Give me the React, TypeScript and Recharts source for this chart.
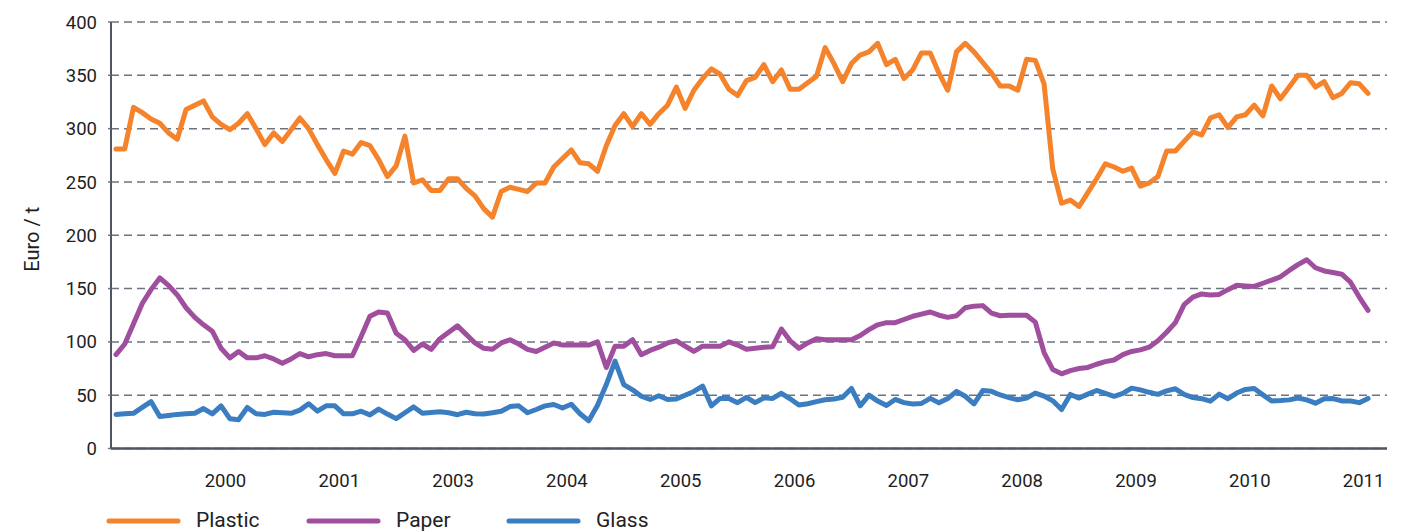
import React from 'react';
import { LineChart, Line, XAxis, YAxis, CartesianGrid, Legend, Label } from 'recharts';

const plastic = [
  281, 281, 320, 315, 309, 305, 296, 290, 318, 322, 326, 311, 304, 299, 305, 314, 300, 285, 296, 288,
  299, 310, 300, 285, 271, 258, 279, 276, 287, 284, 271, 255, 265, 293, 249, 252, 242, 242, 253, 253,
  244, 237, 225, 217, 241, 245, 243, 241, 249, 249, 264, 272, 280, 268, 267, 260, 284, 303, 314, 302,
  314, 304, 314, 322, 339, 319, 336, 347, 356, 351, 337, 331, 345, 348, 360, 344, 355, 337, 337, 343,
  349, 376, 361, 344, 361, 369, 372, 380, 360, 365, 347, 355, 371, 371, 352, 336, 372, 380, 372, 362,
  352, 340, 340, 336, 365, 364, 342, 262, 230, 233, 227, 240, 253, 267, 264, 260, 263, 246, 249, 255,
  279, 279, 288, 297, 294, 310, 313, 301, 311, 313, 322, 312, 340, 328, 339, 350, 350, 339, 344, 329,
  333, 343, 342, 333,
];

const paper = [
  88, 98, 117, 136, 149, 160, 153, 144, 132, 123, 116, 110, 94, 85, 91, 85, 85, 87, 84, 80,
  84, 89, 86, 88, 89, 87, 87, 87, 105, 124, 128, 127, 108, 102, 92, 98, 93, 103, 109, 115,
  107, 99, 94, 93, 99, 102, 98, 93, 91, 95, 99, 97, 97, 97, 97, 100, 76, 96, 96, 102,
  88, 92, 95, 99, 101, 96, 91, 96, 96, 96, 100, 97, 93, 94, 95, 95.5, 112, 101, 94, 99,
  103, 102, 102, 102, 102, 106, 111.5, 116, 118, 118, 121, 124, 126, 128, 125, 123, 124.5, 132, 133.5, 134,
  127, 124.5, 125, 125, 125, 118.5, 90, 74, 70, 73, 75, 76, 79, 81.5, 83, 88, 91, 92.5, 95, 101,
  109, 118, 135, 142, 145, 144, 144.5, 149, 153, 152.5, 152, 155, 158, 161, 167, 172.5, 177, 169.5, 166.5, 165,
  163.5, 156, 142, 129.5,
];

const glass = [
  32, 32.5, 33, 38.5, 44, 30, 31, 32, 32.5, 33, 37.5, 32.5, 40, 28, 27, 38.5, 32.5, 32, 34, 33.5,
  33, 36, 42, 35, 40, 40, 32.5, 32.5, 35, 31.5, 37, 32.3, 28, 33.5, 39, 33, 33.7, 34.4, 33.5, 31.7,
  34, 32.6, 32.4, 33.5, 35, 39.3, 40, 33.5, 36.6, 40, 41.3, 38, 41.5, 32.6, 26, 40.5, 60, 82, 60, 55,
  49, 46, 49.5, 46, 46.5, 50, 53.5, 58.6, 40, 47, 47, 43, 48, 43, 47.5, 47, 51.8, 46.6, 40.8, 42,
  44, 45.7, 46.5, 48, 56.3, 40, 50, 44.5, 40.3, 46, 43, 41.7, 42.3, 47, 42.8, 46.8, 53.6, 49, 41.8, 54.3,
  53.6, 50.2, 47.7, 45.7, 47.3, 52, 49.2, 44.7, 36.6, 50.7, 47.3, 51, 54.4, 51.7, 49, 51.7, 56.6, 55, 52.7, 50.8,
  54, 56, 50.7, 47.8, 46.7, 44.4, 51, 46.7, 52, 55.4, 56.2, 50.3, 44.6, 45, 45.6, 47.3, 45.6, 42.5, 46.7, 46.8,
  44.6, 44.6, 43, 47,
];

const yearLabels = ['2000', '2001', '2003', '2004', '2005', '2006', '2007', '2008', '2009', '2010', '2011'];
const yTicks = [0, 50, 100, 150, 200, 250, 300, 350, 400];

const seriesInfo = [
  { key: 'plastic', name: 'Plastic', color: '#F5832B' },
  { key: 'paper', name: 'Paper', color: '#A04E9E' },
  { key: 'glass', name: 'Glass', color: '#3A7EC1' },
];

const data = plastic.map((p, i) => ({ i, plastic: p, paper: paper[i], glass: glass[i] }));
const labelTicks = yearLabels.map((_, k) => 12.5 + 13 * k);

const FONT = 'Roboto, "Liberation Sans", sans-serif';

const LegendContent = () => (
  <div style={{ position: 'relative', width: 640, height: 22, fontFamily: FONT }}>
    {seriesInfo.map((s, k) => (
      <div key={s.key} style={{ position: 'absolute', left: k * 200, top: 0, height: 22 }}>
        <svg width={76} height={10} style={{ position: 'absolute', left: 0, top: 6, display: 'block' }}>
          <line x1={3} y1={5} x2={72} y2={5} stroke={s.color} strokeWidth={5} strokeLinecap="round" />
        </svg>
        <span
          style={{
            position: 'absolute',
            left: 90,
            top: 0,
            fontSize: 21,
            color: '#222',
            lineHeight: '21px',
            whiteSpace: 'nowrap',
          }}
        >
          {s.name}
        </span>
      </div>
    ))}
  </div>
);

export default function App() {
  return (
    <div style={{ position: 'absolute', top: 8, left: 8, width: 1402, height: 523, overflow: 'hidden', background: '#fff' }}>
      <LineChart width={1402} height={523} data={data} margin={{ top: 14, right: 23, bottom: 0, left: 0 }}>
        <CartesianGrid vertical={false} stroke="#6D7480" strokeDasharray="8 5" strokeWidth={1.5} />
        <XAxis
          type="number"
          dataKey="i"
          domain={[-0.571, 145.17]}
          allowDataOverflow
          ticks={labelTicks}
          interval={0}
          tickFormatter={(v: number) => yearLabels[labelTicks.indexOf(v)] ?? ''}
          height={82.5}
          tickLine={false}
          tickSize={0}
          tickMargin={25}
          axisLine={{ stroke: '#4F565F', strokeWidth: 2.5 }}
          tick={{ fontSize: 18.5, fill: '#1e1e1e', fontFamily: FONT }}
        />
        <YAxis
          type="number"
          domain={[0, 400]}
          ticks={yTicks}
          interval={0}
          width={103}
          tickSize={3}
          tickMargin={11}
          tickLine={{ stroke: '#6D7480', strokeWidth: 1.5 }}
          axisLine={{ stroke: '#4F565F', strokeWidth: 2 }}
          tick={{ fontSize: 18.5, fill: '#1e1e1e', fontFamily: FONT }}
        >
          <Label
            content={({ viewBox }: any) => {
              const cx = viewBox.x + 23.5;
              const cy = viewBox.y + viewBox.height / 2 + 4;
              return (
                <text
                  x={cx}
                  y={cy}
                  transform={`rotate(-90, ${cx}, ${cy})`}
                  textAnchor="middle"
                  dominantBaseline="central"
                  fontSize={20}
                  fill="#1e1e1e"
                  fontFamily={FONT}
                >
                  Euro / t
                </text>
              );
            }}
          />
        </YAxis>
        <Legend
          layout="horizontal"
          verticalAlign="middle"
          align="center"
          content={<LegendContent />}
          wrapperStyle={{ top: 502, left: 98, width: 640, height: 22 }}
        />
        {seriesInfo.map((s) => (
          <Line
            key={s.key}
            type="linear"
            dataKey={s.key}
            name={s.name}
            stroke={s.color}
            strokeWidth={5}
            dot={false}
            activeDot={false}
            strokeLinecap="round"
            strokeLinejoin="round"
            isAnimationActive={false}
          />
        ))}
      </LineChart>
    </div>
  );
}
